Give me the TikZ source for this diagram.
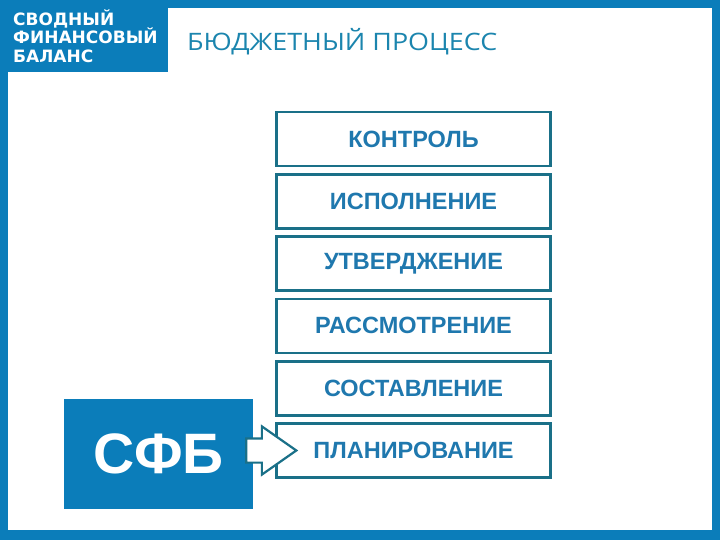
\documentclass[tikz,border=0pt]{standalone}
\usepackage{fontspec}
\setmainfont{Liberation Sans}
\newfontfamily\titlefont[FakeStretch=1.12]{Open Sans}
\newfontfamily\headerfont{DejaVu Sans}
\usetikzlibrary{positioning,shapes.arrows}
\definecolor{sfbblue}{HTML}{0B7DBA}
\definecolor{frameteal}{HTML}{1A7088}
\definecolor{stagetext}{HTML}{1F78AE}
\definecolor{titleblue}{HTML}{1B85AE}

\begin{document}
\begin{tikzpicture}[x=1pt, y=-1pt,
  stage/.style={draw=frameteal, line width=2.6pt, fill=white,
    minimum width=274pt, minimum height=54pt, inner sep=0pt,
    font=\bfseries\fontsize{23.5}{26}\selectfont, text=stagetext},
  sfbbox/.style={fill=sfbblue, minimum width=189pt, minimum height=110pt,
    inner sep=0pt, text=white, font=\bfseries\fontsize{57}{60}\selectfont},
  blockarrow/.style={single arrow, draw=frameteal, line width=2.2pt, fill=white,
    minimum height=50pt, minimum width=46pt, single arrow head extend=12pt,
    single arrow tip angle=70, inner sep=0pt, text height=11pt, text depth=11pt}]
% frame and header
\fill[sfbblue] (0,0) rectangle (720,540);
\fill[white] (8,8) rectangle (712,530);
\fill[sfbblue] (0,0) rectangle (168,72);
\node [anchor=west, align=left, text=white, inner sep=0pt,
  font=\headerfont\bfseries\fontsize{17}{18.5}\selectfont] (header) at (13,36)
  {СВОДНЫЙ\\ФИНАНСОВЫЙ\\БАЛАНС};
\node [anchor=west, inner sep=0pt, text=titleblue,
  font=\titlefont\fontsize{24}{26}\selectfont] (title) at (187,42)
  {БЮДЖЕТНЫЙ ПРОЦЕСС};

% stages, bottom to top
\foreach \l [count=\i] in {ПЛАНИРОВАНИЕ, СОСТАВЛЕНИЕ, РАССМОТРЕНИЕ,
    УТВЕРДЖЕНИЕ, ИСПОЛНЕНИЕ, КОНТРОЛЬ}
  \node [stage] (stage-\i) at (413.5, {450.5-62.3*(\i-1)}) {\l};

\node [sfbbox] (sfb) at (158.5,454) {СФБ};
\node [blockarrow, anchor=tail] (sfb-arrow)
  at ([xshift=-8pt]sfb.east |- stage-1.west) {};
\end{tikzpicture}
\end{document}
